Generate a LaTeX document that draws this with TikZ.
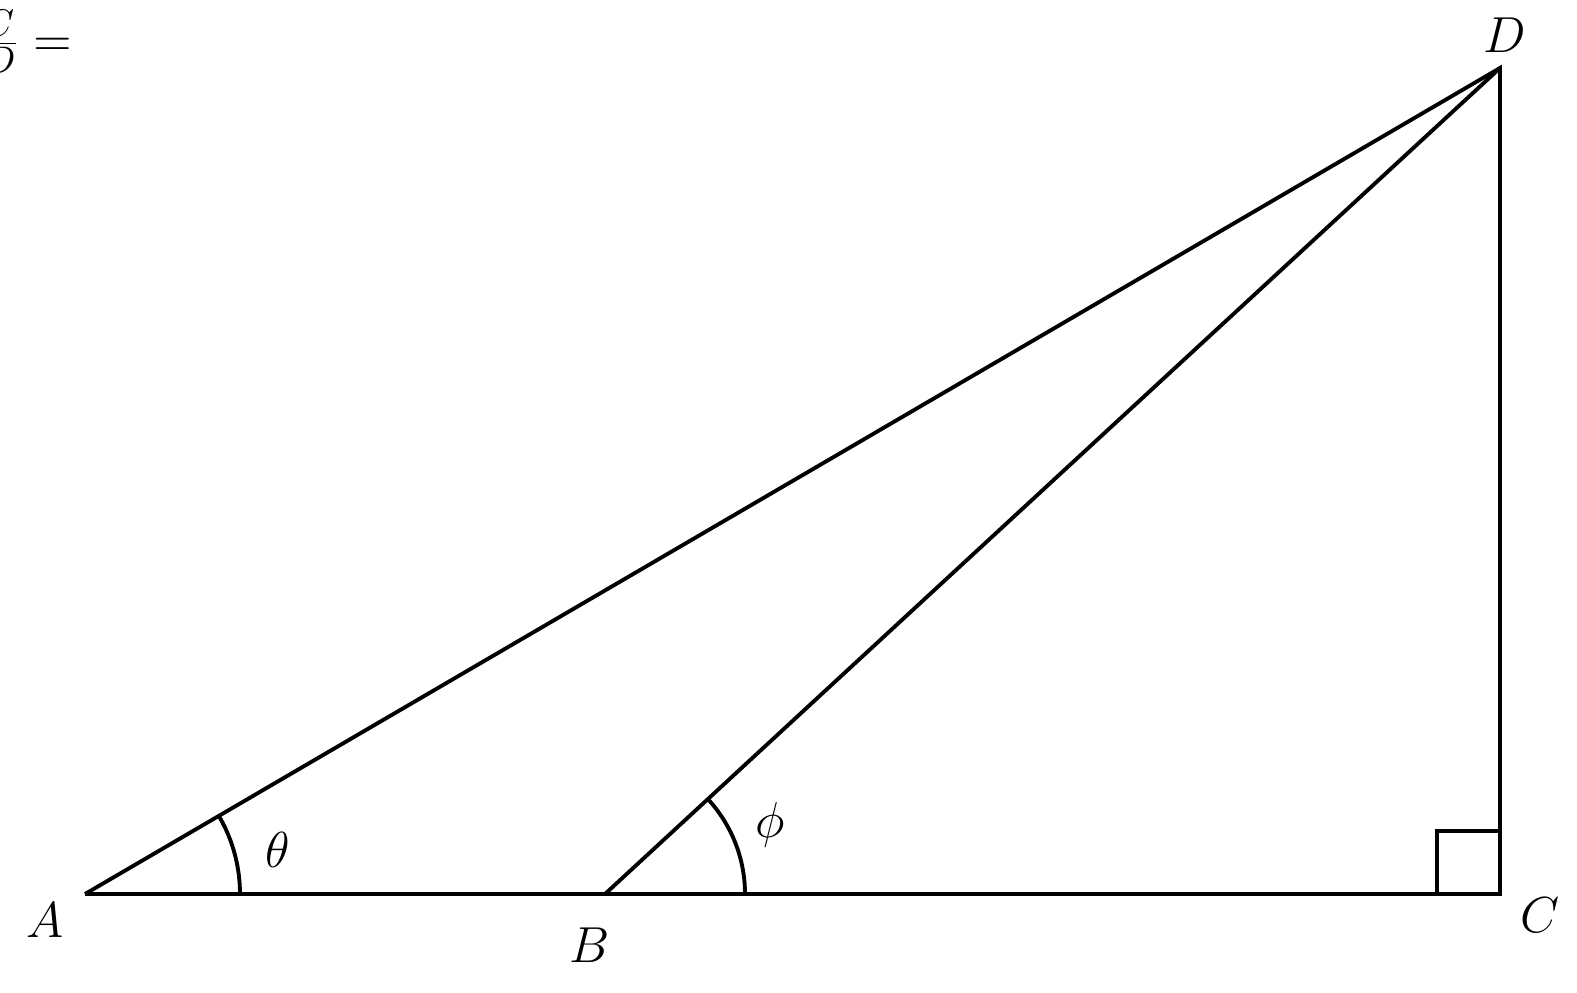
\documentclass[tikz,border=0pt]{standalone}
\usepackage{tikz}

\begin{document}
\begin{tikzpicture}
  [line width=1.1pt,every node/.style={font=\fontsize{15}{18}\selectfont}]
  \useasboundingbox (0,0) rectangle (15.77,9.92);

  \coordinate (A) at (0.85,0.98);
  \coordinate (B) at (6.05,0.98);
  \coordinate (C) at (15.0,0.98);
  \coordinate (D) at (15.0,9.24);

  \node (la) at (0.45,0.72) {$A$};
  \node (lb) at (5.90,0.47) {$B$};
  \node (lc) at (15.40,0.77) {$C$};
  \node (ld) at (15.05,9.57) {$D$};
  \node (lt) at (2.78,1.42) {$\theta$};
  \node (lp) at (7.70,1.67) {$\phi$};
  \node[anchor=east] (frac) at (0.86,9.50) {$\frac{C}{D}=$};

  \draw (A) -- (C) -- (D) -- (A);
  \draw (B) -- (D);

  \draw (A) ++(1.55,0) arc (0:30.3:1.55);
  \draw (B) ++(1.40,0) arc (0:42.7:1.40);
  \draw (C) ++(-0.63,0) -- ++(0,0.63) -- ++(0.63,0);

\end{tikzpicture}
\end{document}
